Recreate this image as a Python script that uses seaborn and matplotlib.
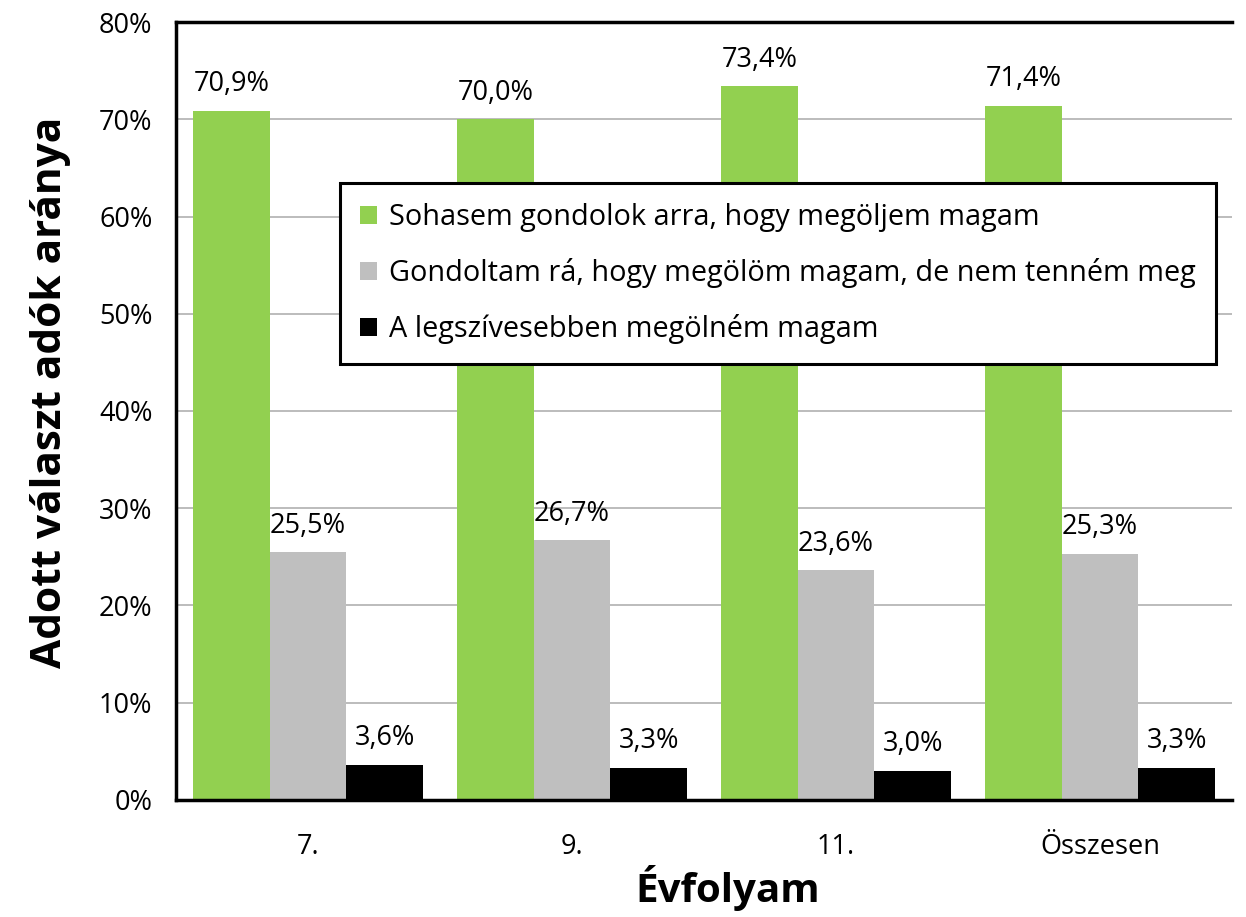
import matplotlib
matplotlib.use("Agg")
import matplotlib.pyplot as plt
import seaborn as sns
import pandas as pd
import numpy as np

categories = ["7.", "9.", "11.", "Összesen"]
series_names = [
    "Sohasem gondolok arra, hogy megöljem magam",
    "Gondoltam rá, hogy megölöm magam, de nem tenném meg",
    "A legszívesebben megölném magam",
]
never = [70.9, 70.0, 73.4, 71.4]
thought = [25.5, 26.7, 23.6, 25.3]
would = [3.6, 3.3, 3.0, 3.3]
colors = ["#92d050", "#bfbfbf", "#000000"]
yticks = [0, 10, 20, 30, 40, 50, 60, 70, 80]

rows = []
for name, vals in zip(series_names, [never, thought, would]):
    for c, v in zip(categories, vals):
        rows.append({"Évfolyam": c, "Válasz": name, "Arány": v})
df = pd.DataFrame(rows)

sns.set_style("white")
plt.rcParams["font.family"] = ["Open Sans", "DejaVu Sans"]
plt.rcParams["text.color"] = "black"
plt.rcParams["axes.labelcolor"] = "black"
plt.rcParams["xtick.color"] = "black"
plt.rcParams["ytick.color"] = "black"

FS = 19.5

fig = plt.figure(figsize=(12.46, 9.17), dpi=100)
ax = fig.add_axes([0.1413, 0.1276, 0.8475, 0.8484])

sns.barplot(data=df, x="Évfolyam", y="Arány", hue="Válasz", order=categories,
            hue_order=series_names, palette=colors, width=0.87, ax=ax,
            saturation=1, edgecolor="none", linewidth=0, legend=True)

for cont in ax.containers:
    labels = [f"{v:.1f}%".replace(".", ",") for v in cont.datavalues]
    ax.bar_label(cont, labels=labels, padding=9, fontsize=FS, color="black")

ax.set_ylim(0, 80)
ax.set_xlim(-0.5, 3.5)
ax.set_yticks(yticks)
ax.set_yticklabels([f"{t}%" for t in yticks], fontsize=FS)
ax.yaxis.grid(True, color="#b0b0b0", linewidth=1.2)
ax.set_axisbelow(True)

ax.set_xticks([0, 1, 2, 3])
ax.set_xticklabels(categories, fontsize=FS)
ax.tick_params(axis="x", length=0, pad=24)
ax.set_xticks([-0.5, 0.5, 1.5, 2.5, 3.5], minor=True)
ax.tick_params(axis="x", which="minor", length=10, width=2, direction="out", color="black")
ax.tick_params(axis="y", length=11, width=2.5, direction="out", color="black", pad=6)

for s in ["left", "bottom", "top"]:
    ax.spines[s].set_visible(True)
    ax.spines[s].set_color("black")
    ax.spines[s].set_linewidth(2.5)
ax.spines["right"].set_visible(False)

ax.set_xlabel("Évfolyam", fontsize=29, fontweight="bold")
ax.set_ylabel("Adott választ adók aránya", fontsize=30.5, fontweight="bold")
ax.xaxis.set_label_coords(0.522, -0.113)
ax.yaxis.set_label_coords(-0.119, 0.524)
ax.xaxis.label.set_va("center")
ax.yaxis.label.set_va("center")

handles, labs = ax.get_legend_handles_labels()
leg = ax.legend(handles, labs, loc="upper left", bbox_to_anchor=(0.155, 0.793),
                frameon=True, fancybox=False, framealpha=1, fontsize=20.8,
                handlelength=0.6, handleheight=0.6, handletextpad=0.4,
                labelspacing=0.9, borderpad=0.7, borderaxespad=0)
leg.get_frame().set_edgecolor("black")
leg.get_frame().set_linewidth(2.2)

fig.savefig("out.png", dpi=100)
